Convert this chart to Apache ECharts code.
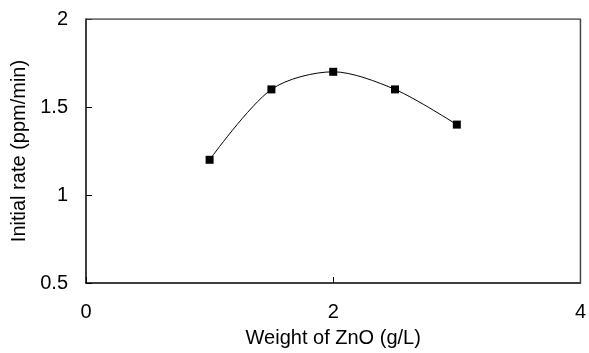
<!DOCTYPE html>
<html>
<head>
<meta charset="utf-8">
<script src="https://cdn.jsdelivr.net/npm/echarts@6/dist/echarts.min.js"></script>
<style>
  html, body { margin: 0; padding: 0; background: #fff; }
  #chart { width: 589px; height: 353px; }
</style>
</head>
<body>
<div id="chart"></div>
<script>
const zno = [1, 1.5, 2, 2.5, 3];
const rate = [1.2, 1.6, 1.7, 1.6, 1.4];
const xTicks = [0, 2, 4];
const yTicks = [0.5, 1, 1.5, 2];

const chart = echarts.init(document.getElementById("chart"));
const font = "'Liberation Sans', Arial, sans-serif";

chart.setOption({
  animation: false,
  grid: { left: 86, right: 6, top: 19, bottom: 70, show: false },
  xAxis: {
    type: "value",
    min: xTicks[0],
    max: xTicks[xTicks.length - 1],
    interval: 2,
    name: "Weight of ZnO (g/L)",
    nameLocation: "middle",
    nameGap: 45,
    nameTextStyle: { fontFamily: font, fontSize: 20, color: "#000" },
    axisLine: { lineStyle: { color: "#000", width: 1.5 } },
    axisTick: { inside: true, length: 6, lineStyle: { color: "#000" } },
    axisLabel: { fontFamily: font, fontSize: 20, color: "#000", margin: 19 },
    splitLine: { show: false },
  },
  yAxis: {
    type: "value",
    min: yTicks[0],
    max: yTicks[yTicks.length - 1],
    interval: 0.5,
    name: "Initial rate (ppm/min)",
    nameLocation: "middle",
    nameGap: 55,
    nameTextStyle: { fontFamily: font, fontSize: 20, color: "#000" },
    axisLine: { lineStyle: { color: "#000", width: 1.5 } },
    axisTick: { inside: true, length: 6, lineStyle: { color: "#000" } },
    axisLabel: { fontFamily: font, fontSize: 20, color: "#000", margin: 18 },
    splitLine: { show: false },
  },
  series: [
    {
      type: "line",
      data: zno.map((x, i) => [x, rate[i]]),
      smooth: 0.3,
      symbol: "rect",
      symbolSize: 8,
      itemStyle: { color: "#000" },
      lineStyle: { color: "#000", width: 1 },
    },
    {
      // top and right border of the plot box
      type: "line",
      data: [[0, 2], [4, 2], [4, 0.5]],
      symbol: "none",
      silent: true,
      lineStyle: { color: "#444", width: 1.5 },
    },
  ],
});
</script>
</body>
</html>
